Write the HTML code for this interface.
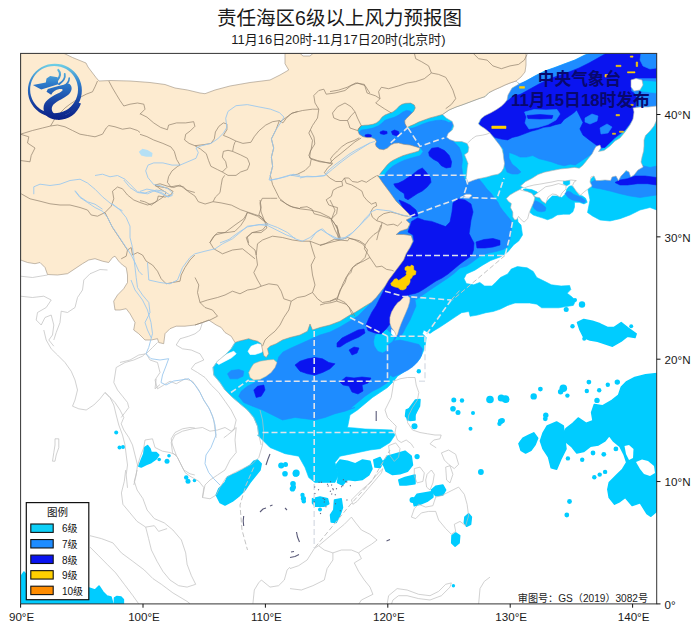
<!DOCTYPE html>
<html lang="zh"><head><meta charset="utf-8"><title>责任海区6级以上风力预报图</title>
<style>
html,body{margin:0;padding:0;background:#fff;}
body{width:700px;height:631px;position:relative;overflow:hidden;font-family:"Liberation Sans",sans-serif;}
.xl{position:absolute;top:610.2px;width:60px;text-align:center;font-size:11.6px;line-height:14px;color:#1a1a1a;white-space:nowrap}
.h{position:absolute;color:transparent;white-space:nowrap;overflow:hidden;line-height:1.1;height:1.2em;pointer-events:none}
.yl{position:absolute;left:664.6px;font-size:11.6px;line-height:14px;color:#1a1a1a;white-space:nowrap}
</style></head><body>
<svg width="700" height="631" viewBox="0 0 700 631" style="position:absolute;left:0;top:0">
<defs><clipPath id="fr"><rect x="20.6" y="53.4" width="636.1" height="550.5"/></clipPath>
<linearGradient id="lg" x1="0" y1="0" x2="0" y2="1"><stop offset="0" stop-color="#5CC6E8"/><stop offset="0.45" stop-color="#2C73C8"/><stop offset="1" stop-color="#0B2A8E"/></linearGradient>
</defs>
<rect x="0" y="0" width="700" height="631" fill="#fff"/>
<g clip-path="url(#fr)">
<g stroke-linejoin="round">
<polygon points="590,53.4 656.7,53.4 656.7,107 640,115 625,140 600,160 570,175 530,185 521,188 515,200 518,222 521,225 522.5,235 518.7,241 513.8,244.7 507.7,252 500.4,256.9 490.7,260.5 482.2,265.4 474.9,270.2 466.4,273.9 464,278.7 466.4,283.6 473.7,284.8 479.8,282.4 484.6,286 491.9,286 495.6,282.4 500.4,277.5 507.7,273.9 511.3,269 517.4,266.6 527.1,267.8 533.2,271.4 536.8,277.5 544.1,281.1 551.4,284.8 561.1,286 569.6,285.5 570.8,289.6 567.2,293.3 572,296.9 575.7,300.6 573.3,305.4 566,306.6 558.7,307.8 549,307.8 541.7,307.8 536.8,304.2 529.6,303 522.3,303 515,303 507.7,305.4 500.4,309.1 493.1,311.5 485.9,312.7 477.4,315.1 470.1,316.3 468.9,311.5 461.6,312.7 454.3,317.6 447,322.4 439.7,327.3 433.6,330.9 430,333.4 423.7,330 422.5,333.7 426.2,337.5 425,347.5 420,358.7 412.5,366.2 405,371.2 397.5,376.2 393.7,381.2 387.5,387.5 380,392.5 372.5,397.5 365,403.7 357.5,410 350,415 347.5,427.5 355,428 365,429 380,429.5 392,430 395,435 390,442.5 380,448.7 370,450 352.5,453.7 340,456.2 335,462.5 338.7,475 335,482.5 315,482.5 308.7,477.5 305,467.5 298.7,456.2 285,453.7 270,447.5 257.5,435 258.7,435 257.5,426.2 253.7,417.5 247.5,410 240,403.7 231.2,396.2 225,390 220,382.5 213.7,375 213,367.5 217.5,361.2 225,355 231.2,348.7 235,342.5 300,320 380,270 400,200 370,170 350,130 400,100 450,105 519,83 517.5,86 526,81 535,76 545,71 555,67.5 565,63.7 575,60 585,55" fill="#00CCFF" stroke="#00CCFF" stroke-width="0.6" />
<polygon points="248,351.2 251.2,346.2 257.5,343.8 263.8,345 265,348.8 261.2,352.5 255,354.5 250,354.5" fill="#FFFFFF" stroke="#FFFFFF" stroke-width="0.6" />
<polygon points="216.2,362.5 221.2,357.5 227.5,353.8 233.8,351.2 236.2,353.8 231.2,358 225,361.2 218.8,364.5" fill="#FFFFFF" stroke="#FFFFFF" stroke-width="0.6" />
<polygon points="530.1,208.6 531.7,203.9 534.1,200.7 533.3,197.5 530.1,194.4 526.9,192 523,189.6 525.4,188.8 531.7,189.6 537.2,192 539.6,196 542.8,199.9 546,202.3 549.1,199.1 552.3,196 557.1,196 561.8,197.5 565.8,193.6 566.6,189.6 568.9,186.5 571.3,185.7 574.5,188 576.1,191.2 579.2,195.2 582.4,196 585.6,198.3 587.2,202.3 584,203.9 579.2,202.3 574.5,202.3 574.5,207.1 572.9,211.8 569.7,214.2 563.4,214.2 557.1,215 552.3,218.1 547.5,219.7 542.8,218.1 538,216.6 533.3,215 530.1,212.6" fill="#00CCFF" stroke="#00CCFF" stroke-width="0.6" />
<polygon points="563.4,179.3 566.6,178.5 569.7,180.1 569.7,184.1 566.6,185.7 563.4,184.1" fill="#00CCFF" stroke="#00CCFF" stroke-width="0.6" />
<polygon points="587.5,212.5 590,200 588,190 590,180 600,170 630,150 645,125 650,118 656.7,118 656.7,210 650,207.5 640,210 630,215 620,218.7 610,221 600,220 592.5,216" fill="#00CCFF" stroke="#00CCFF" stroke-width="0.6" />
<polygon points="358.6,132.4 361.4,130.1 367.1,129.3 372.9,128.1 378.6,125.7 382.1,122.9 385,120.3 389.3,118.7 394.3,117.3 398.6,115.1 402.9,112 406.4,110.4 410,111 412.3,112.9 410.7,115.7 407.1,118.6 405,121.4 407,125.7 408,128.5 412.9,128 417.1,126.5 422.9,124 428.6,122 435.7,120.5 441.4,120 445.7,121 448.6,122.5 453.8,122.2 451.4,127.7 449,134.1 451.4,139.6 455.4,143.6 459.3,147.5 461.7,153.9 462.5,160.2 461.7,166.6 462.5,172.9 464.1,177.7 466.5,182.4 468,181 478.5,177 478.5,178.6 482.8,183.5 487.1,189.3 491.4,193.5 494.2,197.8 497.8,202.1 499.9,206.4 502.8,210.6 506.4,214.9 509.9,219.2 512.1,222.1 511,232 509.9,239.2 508.4,246 503.1,249.5 496.2,251.5 489.2,253 482.2,255 477,258.5 471.8,262.5 466.5,266 460,268 454,273.5 448,278 442,282 436,286 430,290 425,293.5 420,297 416,299.5 411,298 415,300 416,306 413,313 410,320 406,327 403,333 400,337 397,336 394,341 400,340 407,341.5 413,343 419,344.5 422.5,349 421.5,355.5 417.5,362 413,366.5 408,370 400,374 393,377 390,375 387.5,382.5 380,387.5 372.5,391.2 365,396.2 357.5,402.5 350,408.7 355,407.5 345,411.2 335,413.7 325,417.5 315,420 305,418.7 295,417.5 282.5,420 272.5,415 262.5,410 252.5,406.2 243.7,402.5 238.7,396.2 241.2,391.2 247.5,386.2 257.5,381.2 265,377.5 277.5,361.2 278.7,357 283,352 290,348.5 300,344 310,339.5 320,335 330,332 340,327 350,321 358,316 365,309 372,302 378,294 383,288 387,282 391,276 393.5,273 385,270 380,220 370,170 350,140" fill="#1E8CFF" stroke="#1E8CFF" stroke-width="0.6" />
<polygon points="420,148.1 418.9,151 414.3,152.4 408.6,153.9 402.9,155.7 397.9,157.9 392.9,160.4 390.4,162.1 387.4,164.7 384.3,168.6 381.4,172.1 379.3,175 378.5,177 381.5,176.5 384,175 386.5,171.5 389.5,168.3 392.5,165.7 395,164.2 399.5,161.7 404.5,159.6 410,157.8 415.5,156.3 420,155 422.5,151.5" fill="#00CCFF" stroke="#00CCFF" stroke-width="0.6" />
<polygon points="375,336.2 380,331.2 387.5,330 390,336.2 387.5,343.8 385,351.2 378.8,350 375,343.8" fill="#00CCFF" stroke="#00CCFF" stroke-width="0.6" />
<polygon points="519,84 526,81 535,76 545,71 555,67.5 565,63.7 575,60 585,55 590,53.4 656.7,53.4 656.7,107 640,115 620,135 600,150 597.1,149.3 594,152.4 589.3,155.6 584.6,158.7 579.9,161.9 575.1,165 570.4,164.2 564.1,165.8 557.9,164.2 551.6,161.9 545.3,160.3 539,158.7 532.7,155.6 526.4,157.1 520.1,157.1 515.4,154.8 509.1,152.4 509,158 512,164 517,168 521,172 518,174 512,174 507,172 504.5,165 503.5,158 503.6,149.3 495,140 485,125 495,105 510,90" fill="#1E8CFF" stroke="#1E8CFF" stroke-width="0.6" />
<polygon points="479,124 482,118 485,115.5 490,111 500,106 508.7,100 512,97 521,94 530,89 539,84 549,79 559,75.5 569,72 579,68 589,63 598,58 606,53.4 656.7,53.4 656.7,78 637,78 631,80 631,91 634,93 638,100 637.5,103.7 635,112.5 632.5,120 625,130 615,137.5 605,147.5 600.3,147.7 595.6,144.6 589.3,139.9 583,135.1 579.9,128.9 583,122.6 579.9,116.3 576.7,110 573.6,113.1 568.9,116.3 564.1,119.4 561,123.4 554.7,124.9 550,126.5 543.7,127.3 537.4,129.6 531.1,131.2 524.9,133.6 518.6,135.9 512.3,137.5 507.6,139.9 501.3,139.1 495,137.5 490,133" fill="#0A14F0" stroke="#0A14F0" stroke-width="0.6" />
<polygon points="641,53.4 656.7,53.4 656.7,68 650,69 643,66 640,60" fill="#1E8CFF" stroke="#1E8CFF" stroke-width="0.6" />
<polygon points="640,92 656.7,92 656.7,107 636,108 637,100" fill="#1E8CFF" stroke="#1E8CFF" stroke-width="0.6" />
<polygon points="637,83 645,81 656.7,82 656.7,93 648,92 640,91" fill="#00CCFF" stroke="#00CCFF" stroke-width="0.6" />
<polygon points="375.7,336.6 379.6,333.4 386,331 390.7,332.6 394.7,336.6 392.3,341.3 387.5,344.5 386.8,349.2 382.8,352.4 378,350.8 374.9,346.1 374.1,341.3" fill="#00CCFF" stroke="#00CCFF" stroke-width="0.6" />
<polygon points="391.5,329.5 394.5,331.5 396.5,336 394,336.5 391.5,333.5" fill="#FFFFFF" stroke="#FFFFFF" stroke-width="0.6" />
<polygon points="428.6,152.2 431.8,148.2 438.1,147.4 444.5,150.6 449.2,155.4 451.6,161.7 450.8,167.2 446.1,168 441.3,165.7 438.1,161.7 433.4,159.3 429.4,156.1" fill="#0A14F0" stroke="#0A14F0" stroke-width="0.6" />
<polygon points="422.3,168 425.5,171.2 430.2,177.5 431,182.3 427.1,187.1 422.3,191 417.5,193.4 412.8,196.6 408,199.7 404.9,198.1 404.1,193.4 400.1,191 395.4,187.1 393.8,183.9 398.5,183.1 403.3,180.7 408,177.5 412.8,174.4 417.5,170.4" fill="#0A14F0" stroke="#0A14F0" stroke-width="0.6" />
<polygon points="399,200 404,202 410,205 416,210 418,216 412,217 408,213 403,208" fill="#0A14F0" stroke="#0A14F0" stroke-width="0.6" />
<polygon points="411.6,221.4 417.7,217.9 424.7,220.5 431.6,221.4 438.6,224 445.6,226.6 450,222 452,212 453,203 458,199 465,200 471,204 473,212 471,220 470,227.5 469.1,233.6 471.7,238.8 474,243 473.5,250 471.7,255.4 468.3,258 464,261 460,264 454,269 448,274 442,278 436,281 430,285 424,289 419,292 415,293.5 410,294.5 407,296 400,301 394,308 391,316 390,324 386,329 381,334 375,333 368,330.5 366,325 369,318 372,312 376,306 379,300 383,292 386,285 388,279 392,274 396,270 400,265 404,259 407,253 411,247 414,241 413,235 408,232" fill="#0A14F0" stroke="#0A14F0" stroke-width="0.6" />
<polygon points="295,365 300,361.2 307.5,358.8 315,357.5 322.5,358.8 328.8,362.5 335,363.8 330,368.8 322.5,372.5 315,375 307.5,373.8 300,371.2" fill="#0A14F0" stroke="#0A14F0" stroke-width="0.6" />
<polygon points="253.8,390 257.5,386.2 263.8,385 265,390 261.2,396.2 256.2,397.5" fill="#0A14F0" stroke="#0A14F0" stroke-width="0.6" />
<polygon points="227.5,373.8 231.2,370.5 238.8,369.5 243.8,371.2 243,376.2 237.5,378.8 230,378.8" fill="#1E8CFF" stroke="#1E8CFF" stroke-width="0.6" />
<polygon points="405,267.5 407.5,266 410,266.8 411.5,265 413.5,266 413.8,270 416,271.2 415.5,274.5 412.8,275.5 411.5,278.2 410,279 410,282 408.5,285 406.5,286 406,288.5 403,290 400,289.5 398,287.5 395,287 391.5,285.5 390.8,283.5 393,281.2 394.5,279 397,278.8 398.5,280.5 401,279 403,277.5 405,276.5 406.5,274.5 406,273 407,271 405,270" fill="#FFD000" stroke="#FFD000" stroke-width="0.6" />
<polygon points="491.8,126.1 506,126.1 506,128.5 491.8,128.5" fill="#FFD000" stroke="#FFD000" stroke-width="0.6" />
<polygon points="591,182.5 595,180 602.5,181 610,178.7 615,175 625,172.5 631,170 640,165 650,167.5 656.7,166 656.7,195 650,196 640,197.5 630,196 620,193.7 610,191 600,188.7 592.5,187.5" fill="#1E8CFF" stroke="#1E8CFF" stroke-width="0.6" />
<polygon points="615,182.5 620,180 627.5,178.7 635,176 645,176 656.7,177.5 656.7,185 647.5,183.7 637.5,183.7 627.5,185 620,185" fill="#0A14F0" stroke="#0A14F0" stroke-width="0.6" />
<polygon points="533.3,202.3 535.7,200.7 538.8,202.3 542.8,204.7 546,207.8 545.2,211 541.2,211.8 537.2,211 534.1,208.6 532.5,205.5" fill="#1E8CFF" stroke="#1E8CFF" stroke-width="0.6" />
<polygon points="565,193.6 567.4,191.2 570.5,192 573.7,194.4 577.7,196 581.6,197.5 585.6,200.7 584,203.1 580,201.5 576.1,200.7 572.1,199.9 568.1,197.5" fill="#1E8CFF" stroke="#1E8CFF" stroke-width="0.6" />
<polygon points="605,74.5 608,74.5 608,77 605,77" fill="#FFD000" stroke="#FFD000" stroke-width="0.6" />
<polygon points="616,65.3 621,65.3 621,66.6 616,66.6" fill="#FFD000" stroke="#FFD000" stroke-width="0.6" />
<polygon points="627.5,71.8 635,71.8 635,72.9 627.5,72.9" fill="#FFD000" stroke="#FFD000" stroke-width="0.6" />
<polygon points="636.2,62 637.6,62 637.6,66.5 636.2,66.5" fill="#FFD000" stroke="#FFD000" stroke-width="0.6" />
<polygon points="630.3,56 633,56 633,57.2 630.3,57.2" fill="#FFD000" stroke="#FFD000" stroke-width="0.6" />
<polygon points="630.8,104.4 633.2,104.4 633.2,105.4 630.8,105.4" fill="#FFD000" stroke="#FFD000" stroke-width="0.6" />
<polygon points="616,114.6 619.5,114.6 619.5,115.8 616,115.8" fill="#FFD000" stroke="#FFD000" stroke-width="0.6" />
<polygon points="612.5,133.2 615.5,133.2 615.5,134.3 612.5,134.3" fill="#FFD000" stroke="#FFD000" stroke-width="0.6" />
<polygon points="619.5,131.2 623.5,131.2 623.5,132.3 619.5,132.3" fill="#FFD000" stroke="#FFD000" stroke-width="0.6" />
<polygon points="519.5,86.6 524.5,86.6 524.5,88.2 519.5,88.2" fill="#FFD000" stroke="#FFD000" stroke-width="0.6" />
<polygon points="365,135 368,134.2 371.4,135 371,137 367.5,137.3 365.2,136.5" fill="#0A14F0" stroke="#0A14F0" stroke-width="0.6" />
<polygon points="380,132 383,130.7 387,131.5 387.1,133.6 384,134.4 380.5,133.8" fill="#0A14F0" stroke="#0A14F0" stroke-width="0.6" />
<polygon points="391.4,131.5 394.5,130 398.5,131.5 399.3,134.5 396,135.8 392.5,134.5" fill="#0A14F0" stroke="#0A14F0" stroke-width="0.6" />
<polygon points="476,242 484,239.5 493,238.5 500,240.5 500,245 493,247 485,248 477,248" fill="#0A14F0" stroke="#0A14F0" stroke-width="0.6" />
<polygon points="337,343 342,338 350,334 358,330 364,329 365,333 359,337 352,340 346,343 340,347 337,347" fill="#0A14F0" stroke="#0A14F0" stroke-width="0.6" />
<polygon points="349,350 354,347 359,348 357,353 352,355" fill="#0A14F0" stroke="#0A14F0" stroke-width="0.6" />
<polygon points="340,382 346,377 354,378 362,377 371,378 368,383 362,385 363,391 358,394 352,392 349,386 343,385" fill="#0A14F0" stroke="#0A14F0" stroke-width="0.6" />
<polygon points="524.5,112 534,109.5 546,110 557,109.5 560,114 556,120 548,124.5 538,127.5 529,129 525,123 526.5,117" fill="#1E8CFF" stroke="#1E8CFF" stroke-width="0.6" />
<polygon points="527,115.5 540,114.5 553,115.5 552,118.5 540,119 528,118.5" fill="#0A14F0" stroke="#0A14F0" stroke-width="0.6" />
<polygon points="585,118 592,114 598,116 597,121 590,124 585,122" fill="#1E8CFF" stroke="#1E8CFF" stroke-width="0.6" />
<polygon points="600,128 607,124 612,127 608,133 601,134" fill="#1E8CFF" stroke="#1E8CFF" stroke-width="0.6" />
<polygon points="657.1,373.5 645.6,374.8 634.8,377.5 626.7,381.6 621.3,387 618.6,395 611.9,400.4 602.4,405.8 594.3,404.5 591.6,412.6 593,420.6 586.3,423.3 578.2,418 572.8,423.3 566,428.7 563.3,434.1 564.7,440.9 571.4,446.3 576.8,453 583.6,451.6 590.3,446.3 598.4,444.9 605.1,440.9 609.2,435.5 613.2,440.9 619.9,446.3 624,454.3 626.7,462.4 622.6,469.2 615.9,475.9 609.2,482.6 607.8,489.4 609.2,497.5 614.6,504.2 619.9,501.5 625.3,497.5 632.1,505.6 640.2,502.9 646.9,513.6 650.9,516.3 657.1,510.9" fill="#00CCFF" stroke="#00CCFF" stroke-width="1.5" />
<polygon points="543.1,432.8 547.2,426 556.6,422 563.3,426 564.7,438.2 566,448.9 560.6,459.7 556.6,469.2 551.2,467.8 548.5,457 543.1,448.9 540.4,440.9" fill="#00CCFF" stroke="#00CCFF" stroke-width="1.5" />
<polygon points="518.9,443.6 522.9,438.2 528.3,435.5 533.7,432.8 537.7,438.2 535,444.9 531,450.3 525.6,453 521,450.3" fill="#00CCFF" stroke="#00CCFF" stroke-width="1.5" />
<polygon points="577.5,322.5 583.8,319.5 592.5,321.2 600,323.8 607.5,327.5 613.8,327.5 621.2,322.5 627.5,327.5 636.2,333.8 635,337.5 627.5,336.2 621.2,341.2 612.5,346.2 605,343.8 597.5,341.2 590,340 583.8,337.5 580,330" fill="#00CCFF" stroke="#00CCFF" stroke-width="1.5" />
<polygon points="312.5,498.8 320,497 327.5,498.8 328.8,503.8 323.8,506.2 315,506.2 312.5,503" fill="#00CCFF" stroke="#00CCFF" stroke-width="1.5" />
<polygon points="334.5,500 341.2,498.8 342.5,507.5 340,515 336.2,522.5 331.2,522 330.5,515 333.8,510" fill="#00CCFF" stroke="#00CCFF" stroke-width="1.5" />
<polygon points="340,460 347.5,461.2 355,463.8 362.5,460 370,461.2 372,468.8 368.8,475 362.5,479.5 355,480.5 347.5,479.5 342.5,485 337.5,482.5 338.8,475 336.2,465" fill="#00CCFF" stroke="#00CCFF" stroke-width="1.5" />
<polygon points="373.8,460 380,457.5 383,462.5 380,467.5 375,467" fill="#00CCFF" stroke="#00CCFF" stroke-width="1.5" />
<polygon points="382.5,462.5 387.5,456.2 396.2,453.8 405,451.2 411.2,456.2 412.5,465 407.5,471.2 400,473.8 392.5,474.5 386.2,471.2" fill="#00CCFF" stroke="#00CCFF" stroke-width="1.5" />
<polygon points="398.8,480 405,477.5 415,475 415,483.8 406.2,485 400,485" fill="#00CCFF" stroke="#00CCFF" stroke-width="1.5" />
<polygon points="406.2,410 412.5,407.5 415,408.8 415,420 410,420.5 405.5,416.2" fill="#00CCFF" stroke="#00CCFF" stroke-width="1.5" />
<polygon points="415.5,400 420,399.5 419.5,406.2 416.2,412.5 412.5,418.8 407.5,420 406.2,413.8 410,407.5" fill="#00CCFF" stroke="#00CCFF" stroke-width="1.5" />
<polygon points="138.8,466.2 141.2,460 143.8,453.8 144.5,447.5 147.5,445.5 150,448.8 151.2,452.5 156.2,452.5 158.8,455 156.2,458.8 151.2,462.5 146.2,464.5 141.2,467" fill="#00CCFF" stroke="#00CCFF" stroke-width="1.5" />
<polygon points="216.2,495 218.8,488.8 225,482.5 227.5,477 235,473.8 242.5,470 250,465.5 253.8,461.2 257.5,460 261.2,463.8 260,470 255,476.2 250,482.5 245,490 238.8,496.2 232.5,501.2 225,505 220,502.5" fill="#00CCFF" stroke="#00CCFF" stroke-width="1.5" />
<polygon points="20.6,577 24,572 30,580 60,585 89,588 95,590 99,586 103,592 107,596 111,597 113,603.9 20.6,603.9" fill="#00CCFF" stroke="#00CCFF" stroke-width="1.5" />
<polygon points="412.9,500 417.1,494.3 424.3,492.9 432.9,491.4 432.9,497.1 427.1,501.4 420,504.3 414.3,505.7" fill="#00CCFF" stroke="#00CCFF" stroke-width="1.5" />
<polygon points="431.4,490 435.7,486.3 442.9,485.1 445.7,490 442.9,494.9 435.7,495.7" fill="#00CCFF" stroke="#00CCFF" stroke-width="1.5" />
<polygon points="464.9,517.1 468.6,513.7 471.4,517.1 470.6,524.3 466.6,526.3 464.3,522.9" fill="#00CCFF" stroke="#00CCFF" stroke-width="1.5" />
<polygon points="452,535.7 455.7,532.9 459.7,535.7 459.1,542.9 455.1,546.3 451.7,542.9" fill="#00CCFF" stroke="#00CCFF" stroke-width="1.5" />
<polygon points="114.3,603.9 114.5,598 117,596.4 121,597 123.4,599.5 123.4,603.9" fill="#00CCFF" stroke="#00CCFF" stroke-width="1.5" />
<polygon points="636,462 642,459.5 648,461 654,466 655,473 650,476 644,474 640,469" fill="#fff" stroke="none" stroke-width="0" />
<polygon points="624.5,446 629,445 633.5,449 633,458 629,460 626,454" fill="#fff" stroke="none" stroke-width="0" />
<circle cx="505.4" cy="399.1" r="3.8" fill="#00CCFF"/>
<circle cx="502.2" cy="420.6" r="2.7" fill="#00CCFF"/>
<circle cx="533.7" cy="396.4" r="3.2" fill="#00CCFF"/>
<circle cx="540.4" cy="389.1" r="2.4" fill="#00CCFF"/>
<circle cx="563.3" cy="388.3" r="3.8" fill="#00CCFF"/>
<circle cx="560.6" cy="391.8" r="2.7" fill="#00CCFF"/>
<circle cx="567.4" cy="395.6" r="2.2" fill="#00CCFF"/>
<circle cx="588.9" cy="382.1" r="2.4" fill="#00CCFF"/>
<circle cx="586.8" cy="391" r="2.2" fill="#00CCFF"/>
<circle cx="599.2" cy="390.2" r="2.2" fill="#00CCFF"/>
<circle cx="607.8" cy="384.8" r="2.2" fill="#00CCFF"/>
<circle cx="617.3" cy="382.1" r="2.7" fill="#00CCFF"/>
<circle cx="545.8" cy="415.3" r="2.7" fill="#00CCFF"/>
<circle cx="545.3" cy="418.8" r="2.4" fill="#00CCFF"/>
<circle cx="597" cy="400.4" r="2.7" fill="#00CCFF"/>
<circle cx="567.9" cy="458.4" r="2.2" fill="#00CCFF"/>
<circle cx="582.2" cy="459.7" r="2.2" fill="#00CCFF"/>
<circle cx="593" cy="453" r="2.4" fill="#00CCFF"/>
<circle cx="603.8" cy="454.3" r="2.4" fill="#00CCFF"/>
<circle cx="615.9" cy="448.9" r="2.4" fill="#00CCFF"/>
<circle cx="594.3" cy="477.3" r="2.2" fill="#00CCFF"/>
<circle cx="599.7" cy="474.6" r="2.2" fill="#00CCFF"/>
<circle cx="605.1" cy="471.9" r="2.2" fill="#00CCFF"/>
<circle cx="569.5" cy="501.5" r="2.4" fill="#00CCFF"/>
<circle cx="566.8" cy="515" r="2.4" fill="#00CCFF"/>
<circle cx="572.5" cy="326.2" r="2.2" fill="#00CCFF"/>
<circle cx="584.2" cy="338.8" r="2" fill="#00CCFF"/>
<circle cx="631.2" cy="326.2" r="2" fill="#00CCFF"/>
<circle cx="566.2" cy="309.5" r="2.5" fill="#00CCFF"/>
<circle cx="575" cy="300" r="2" fill="#00CCFF"/>
<circle cx="582" cy="304.5" r="3.2" fill="#00CCFF"/>
<circle cx="281.2" cy="465.5" r="3" fill="#00CCFF"/>
<circle cx="285.5" cy="464.5" r="2.5" fill="#00CCFF"/>
<circle cx="285" cy="473.8" r="2.8" fill="#00CCFF"/>
<circle cx="296.2" cy="473" r="3.5" fill="#00CCFF"/>
<circle cx="293" cy="483.8" r="2.8" fill="#00CCFF"/>
<circle cx="292.5" cy="488.8" r="2.8" fill="#00CCFF"/>
<circle cx="302.5" cy="495" r="2.2" fill="#00CCFF"/>
<circle cx="303.8" cy="501.2" r="2.2" fill="#00CCFF"/>
<circle cx="320" cy="509.5" r="2" fill="#00CCFF"/>
<circle cx="412.5" cy="500" r="3" fill="#00CCFF"/>
<circle cx="418.8" cy="371.2" r="2.2" fill="#00CCFF"/>
<circle cx="414.5" cy="426.2" r="3" fill="#00CCFF"/>
<circle cx="453.8" cy="400" r="2.5" fill="#00CCFF"/>
<circle cx="462" cy="400.5" r="2.2" fill="#00CCFF"/>
<circle cx="453" cy="408.8" r="2.8" fill="#00CCFF"/>
<circle cx="458" cy="412.5" r="2.5" fill="#00CCFF"/>
<circle cx="473" cy="413" r="2" fill="#00CCFF"/>
<circle cx="470.5" cy="428.8" r="2" fill="#00CCFF"/>
<circle cx="490" cy="399.5" r="3.8" fill="#00CCFF"/>
<circle cx="501.2" cy="398" r="3.5" fill="#00CCFF"/>
<circle cx="506.2" cy="399.5" r="3.2" fill="#00CCFF"/>
<circle cx="500.8" cy="421.2" r="2.8" fill="#00CCFF"/>
<circle cx="499.5" cy="423.8" r="2.2" fill="#00CCFF"/>
<circle cx="522.5" cy="443" r="3" fill="#00CCFF"/>
<circle cx="116.2" cy="432.5" r="2" fill="#00CCFF"/>
<circle cx="119.5" cy="447.5" r="2" fill="#00CCFF"/>
<circle cx="123" cy="447" r="2" fill="#00CCFF"/>
<circle cx="159.2" cy="459.5" r="1.8" fill="#00CCFF"/>
<circle cx="167" cy="461.2" r="2.5" fill="#00CCFF"/>
<circle cx="169" cy="455.8" r="1.8" fill="#00CCFF"/>
<circle cx="186.2" cy="477.5" r="2.2" fill="#00CCFF"/>
<circle cx="188" cy="481.2" r="2.5" fill="#00CCFF"/>
<circle cx="194.5" cy="480.5" r="1.8" fill="#00CCFF"/>
<circle cx="480.9" cy="472" r="2.9" fill="#00CCFF"/>
<circle cx="453.4" cy="585.7" r="1.7" fill="#00CCFF"/>
<circle cx="295.7" cy="473.7" r="3.1" fill="#00CCFF"/>
<circle cx="293.4" cy="487.1" r="2.6" fill="#00CCFF"/>
<circle cx="303.4" cy="498.6" r="2.6" fill="#00CCFF"/>
<circle cx="417.1" cy="456.6" r="2.6" fill="#00CCFF"/>
</g>
<polygon points="442.5,114.5 449,110 456,107 463,104.6 471,101.6 479,98.6 485,96.6 489,92.6 494,90 500,87.4 505,85 510,83 516,81 519,84 512,88 508,95 507,100 504.5,103.2 501.3,106.3 496.6,109.5 491,112.7 484.7,115.8 480.7,119 478.3,123.8 480.7,126.1 484.7,128.5 487.8,130.9 490.2,133.3 493.4,137.2 496.6,141.2 499.7,145.2 502.1,149.1 503.2,153.9 503.7,158.6 504.5,163.4 503.7,168.1 501.3,172.1 498.1,174.2 492.6,175.3 487.1,176.9 482.3,178 477.5,178.9 472.8,180.5 468,182.4 466.1,177.7 466.8,172.9 467.2,168.1 468,163.4 466.1,158.6 464.5,154.7 468,152.3 468.8,147.5 467.2,143.6 461.7,141.5 455.4,141.5 449.8,139.6 446.6,137.2 448.2,133.3 452.2,130.1 453.8,126.1 452.2,121.4 446.6,118.2" fill="#fff" stroke="#b0b0b0" stroke-width="0.6" />
<polygon points="520.6,186 525.4,181.7 531.7,178.5 538,174.6 544.4,172.2 552.3,170.6 560.2,169 568.1,168.2 574.5,167.4 579.2,168.2 582.4,165.8 585.6,161.9 588.7,157.9 592,154 594,150 596,146.5 600,145 601,148 598.5,151.5 604,150.5 610,146 615,141 620,138 625,132 630,125 633,119 634,112 633,108 640,107 648,107 656.7,106 656.7,120 654,126 650,131 645.5,135.5 644,140 644,146 643.6,151 642,157 641,162 643.2,167 638,170 634,175 630.7,177 629,172 626,170.5 624,173 621,176 618.5,180.6 616,176 612,177 610.6,180.6 605,180 600,180.5 596,180.6 594,176 591,177 590,182 592,186 588,189 584,192 580.7,195 577,192 574,188 572.6,185.5 574,182 576.3,180.6 571,180 565,181 558,180.6 552,182 546,183 539.6,184.2 534,185 528,186.5 524,188" fill="#fff" stroke="#b0b0b0" stroke-width="0.6" />
<polygon points="533.5,196 540,191 545.7,186.7 552,185.5 558.5,183.6 565.9,185.5 566,189 562,193 560,197.1 556,194.5 552.4,194 548,197 545.7,203.6 542,201 539.6,197.7 536,197" fill="#fff" stroke="#b0b0b0" stroke-width="0.6" />
<polygon points="506.3,198.5 509.9,195 514.9,192.1 519.9,189.5 522.8,190.7 527,191.4 532,193.5 534.9,197.8 533.5,202.8 531.3,207.8 529.2,212.8 527.7,218.5 524.2,222.1 521.3,219.9 518.5,216.4 517,219.2 514.9,219.9 512.8,217.1 512.8,212.1 510.6,207.8 511.3,203.5 508.5,201.4" fill="#fff" stroke="#b0b0b0" stroke-width="0.6" />
<polygon points="463.5,195.5 466,194.2 470,194.2 472,195.5 470,197.3 466,197.5" fill="#fff" stroke="#b0b0b0" stroke-width="0.6" />
<polygon points="631,80 636,78.5 642,80 643,85 640,90 634,91 631,87" fill="#fff" stroke="#b0b0b0" stroke-width="0.6" />
<polyline points="43.8,330 46.2,340 51.2,348.8 57.5,355 65,362.5 71.2,371.2 75,380 77.5,390 75,400 72.5,406.2 78.8,408.8 86.2,410 93.8,405 100,398.8 105,392.5 110,397.5 113.8,405 116.2,415 118.8,425 122.5,435 125,445 126.2,455 127.5,465 126.2,475 127.5,487.8" fill="none" stroke="#bdbdbd" stroke-width="0.7" />
<polyline points="105,392.5 108.8,396.2 115,402.5 120,410 123.8,417.5 121.2,423.8 123.8,430 128.8,437.5 132.5,445 135,455 137.5,465 136.2,475 133.8,485" fill="none" stroke="#bdbdbd" stroke-width="0.7" />
<polyline points="116.2,367.5 115,375 113.8,382.5 117.5,390 122.5,396.2 127.5,402.5 128.8,407.5 125,412.5 121.2,417.5" fill="none" stroke="#bdbdbd" stroke-width="0.7" />
<polyline points="116.2,367.5 125,362.5 133.8,360 142.5,356.2 145,353.8" fill="none" stroke="#bdbdbd" stroke-width="0.7" />
<polyline points="156.2,378.8 155,388.8 160,384.5" fill="none" stroke="#bdbdbd" stroke-width="0.7" />
<polyline points="55,438.8 58.8,438.8 58.8,447.5 56.2,455 55,461.2 52.5,461.2 53.8,452.5 55,445 55,438.8" fill="none" stroke="#bdbdbd" stroke-width="0.7" />
<polyline points="137.5,466.2 140,457.5 143.8,447.5 145,440 152.5,438.8 155,447.5 162.5,451.2 170,452.5 176.2,455 180,462.5 183.8,470 190,473.8 194.8,475" fill="none" stroke="#bdbdbd" stroke-width="0.7" />
<polyline points="171.2,438.8 175,432.5 182.5,428.8 190,427.5 194.8,428" fill="none" stroke="#bdbdbd" stroke-width="0.7" />
<polyline points="171.2,438.8 172.5,445 176.2,455" fill="none" stroke="#bdbdbd" stroke-width="0.7" />
<polyline points="20.5,276.2 32.5,277.5 47.5,275" fill="none" stroke="#bdbdbd" stroke-width="0.7" />
<polyline points="20.5,296.2 32.5,297.5 43.8,296.2 51.2,300 46.2,307.5 37.5,312.5 36.2,320 41.2,325 45,317.5 51.2,315 53.8,325 52.5,335 48.8,340 53.8,346.2" fill="none" stroke="#bdbdbd" stroke-width="0.7" />
<polyline points="107.5,270 100,269.5 90,273.8 83.8,280 82.5,290 77.5,297.5 75,307.5 67.5,312.5 61.2,311.2 60,322.5 56.2,332.5 53.8,340" fill="none" stroke="#bdbdbd" stroke-width="0.7" />
<polyline points="157.5,342.5 152.5,347.5 146.2,353.8 150,360 157.5,362.5 160,372.5 155,380 157.5,388.8 163.8,385 170,381.2 176.2,383.8 185,378.8 192.5,381.2 198.8,390 203.8,400 210,410 213.8,420 215,430 216.2,437.8" fill="none" stroke="#bdbdbd" stroke-width="0.7" />
<polyline points="120,362.5 130,360 138.8,355 146.2,353.8" fill="none" stroke="#bdbdbd" stroke-width="0.7" />
<polyline points="202.5,322.5 200,330 195,333.8 188.8,336.2 180,338.8 176.2,345 182.5,348.8 191.2,350 200,353.8 203.8,360 195,363.8 191.2,368.8 197.5,372.5 205,377.5 211.2,385 218.8,392.5 225,401.2 231.2,410 236.2,420 233.8,430 227.5,435 223.8,437.8" fill="none" stroke="#bdbdbd" stroke-width="0.7" />
<polyline points="235,342.5 231.2,348.8 225,355 217.5,361.2 213,367.5 213.8,375 220,382.5 225,390 231.2,396.2 240,403.8 247.5,410 253.8,417.5 257.5,426.2 258.8,435 261.2,445" fill="none" stroke="#bdbdbd" stroke-width="0.7" />
<polyline points="260,410 262.5,420 263.8,432.5 262.5,445 258.8,457.5 252.5,463.8 242.5,468.8 232.5,473.8 226.2,477.5 220,487.5 216.2,495 210,498.8 202.5,497.5 203.8,487.5 198.8,481.2 190,476.2 185,472.5 181.2,465 177.5,457.5 172.5,452.5" fill="none" stroke="#bdbdbd" stroke-width="0.7" />
<polyline points="172.5,452.5 171.2,442.5 175,435 182.5,431.2 192.5,428.8 202.5,427.5 210,431.2 217.5,430 225,427.5 231.2,431.2 236.2,427.5" fill="none" stroke="#bdbdbd" stroke-width="0.7" />
<polyline points="202.5,497.5 205,485 210,480 217.5,475 225,470 230,460 236.2,452.5 235,440 236.2,427.5" fill="none" stroke="#bdbdbd" stroke-width="0.7" />
<polyline points="125.7,470 124.3,481.4 121.4,492.9 122.9,504.3 130,512.9 137.1,521.4 145.7,527.1 148.6,538.6 151.4,550 157.1,561.4 162.9,571.4 170,580 178.6,585.7 187.1,587.1 195.7,584.3 191.4,575.7 187.1,564.3 185.7,552.9 181.4,540 172.9,530 164.3,522.9 154.3,518.6 147.1,510 142.9,498.6 137.1,490 134.3,481.4 137.1,470" fill="none" stroke="#bdbdbd" stroke-width="0.7" />
<polyline points="145.7,527.1 154.3,525.7 158.6,531.4 167.1,528.6" fill="none" stroke="#bdbdbd" stroke-width="0.7" />
<polyline points="90,535.7 101.4,538.6 112.9,542.9 121.4,552.9 132.9,561.4 144.3,570 152.9,578.6 161.4,584.3 172.9,592.9 187.1,601.4 190,603.7" fill="none" stroke="#bdbdbd" stroke-width="0.7" />
<polyline points="90,547.1 98.6,555.7 107.1,564.3 115.7,572.9 124.3,584.3 132.9,595.7 138.6,603.7" fill="none" stroke="#bdbdbd" stroke-width="0.7" />
<polyline points="252.9,603.7 254.3,590 258.6,582.9 261.4,580 270,587.1 278.6,585.7 284.3,580 287.1,570 290,567.1" fill="none" stroke="#bdbdbd" stroke-width="0.7" />
<polyline points="290,568.6 298.6,565.7 307.1,560 314.3,548.6 318.6,545.7 327.1,538.6 335.7,531.4 344.3,524.3 351.4,517.1 355.7,522.9 361.4,530 370,534.3 377.1,540 371.4,544.3 364.3,548.6 358.6,552.9 361.4,558.6 354.3,562.9 358.6,571.4 364.3,580 370,587.1 372.9,594.3 361.4,600 358.6,604.3" fill="none" stroke="#bdbdbd" stroke-width="0.7" />
<polyline points="318.6,545.7 324.3,550 332.9,552.9 341.4,550 351.4,550 358.6,552.9" fill="none" stroke="#bdbdbd" stroke-width="0.7" />
<polyline points="290,588.6 301.4,590 312.9,585.7 324.3,580 327.1,568.6 332.9,560 332.9,552.9" fill="none" stroke="#bdbdbd" stroke-width="0.7" />
<polyline points="351.4,500 361.4,490 370,482.9 377.1,474.3 382.9,468.6 381.4,472.9 374.3,481.4 365.7,491.4 357.1,501.4 352.9,504.3 351.4,500" fill="none" stroke="#bdbdbd" stroke-width="0.7" />
<polyline points="387.1,604.3 388.6,595.7 397.1,588.6 407.1,590 418.6,594.3 430,595.7 438.6,591.4 445.7,584.3 451.4,582.9 450,587.1 441.4,595.7 430,600 418.6,598.6 407.1,595.7 398.6,595.7 392.9,600 391.4,604.3" fill="none" stroke="#bdbdbd" stroke-width="0.7" />
<polyline points="411.4,517.1 414.3,508.6 418.6,504.3 425.7,507.1 432.9,505.7 435.7,497.1 441.4,495.7 450,491.4 458.6,487.1 464.3,494.3 467.1,504.3 468.6,515.7 465.7,525.7 460,521.4 454.3,524.3 455.7,531.4 451.4,534.3 445.7,528.6 438.6,520 435.7,511.4 428.6,511.4 421.4,512.9 415.7,518.6 411.4,517.1" fill="none" stroke="#bdbdbd" stroke-width="0.7" />
<polyline points="441.4,452.9 448.6,450 455.7,454.3 458.6,464.3 454.3,468.6 448.6,464.3 444.3,460 441.4,452.9" fill="none" stroke="#bdbdbd" stroke-width="0.7" />
<polyline points="445.7,467.1 450,465.7 452.9,474.3 450,482.9 446.6,480 445.7,467.1" fill="none" stroke="#bdbdbd" stroke-width="0.7" />
<polyline points="427.1,474.3 431.4,470 434.3,474.3 432.9,482.9 430,490 426.6,487.1 425.7,480 427.1,474.3" fill="none" stroke="#bdbdbd" stroke-width="0.7" />
<polyline points="414.3,468.6 420,467.1 424.3,472.9 422.9,481.4 417.1,482.9 414.3,475.7 414.3,468.6" fill="none" stroke="#bdbdbd" stroke-width="0.7" />
<polyline points="388.6,445.7 395.7,442.9 400,448.6 398.6,457.1 394.3,461.4 390,455.7 388.6,445.7" fill="none" stroke="#bdbdbd" stroke-width="0.7" />
<polyline points="478.6,604.3 480,588.6 484.3,581.4 490,577.1" fill="none" stroke="#bdbdbd" stroke-width="0.7" />
<polyline points="393.8,381.2 400,378.8 407.5,377.5 415,377.5 416.2,385 418.8,392.5 417.5,400 412.5,407.5 408.8,415 407.5,422.5 412.5,430 420,432.5 427.5,433.8 435,435 441.2,435 440,438.8 433.8,440 430,443.8 436.2,447.8" fill="none" stroke="#bdbdbd" stroke-width="0.7" />
<polyline points="393.8,381.2 392.5,390 391.2,397.5 387.5,405 385,410 387.5,417.5 392.5,422.5 396.2,426.2 395,432.5 397.5,440 401.2,442.5 406.2,440 411.2,443.8 413.8,447.8" fill="none" stroke="#bdbdbd" stroke-width="0.7" />
<polyline points="468,142.8 472,138.8 476,136.1 482.3,135.2 487,134.1 490.2,132.5" fill="none" stroke="#bdbdbd" stroke-width="0.7" />
<polygon points="20.6,53.4 64,53.4 72.5,57.5 86,63 88,67 96,77.5 99,81 110,80.5 130,81 150,82.5 165,84.5 175,88 187.5,90 200,93 205,93.7 215,90 230,86 250,82.5 270,80 280,75 288.7,70 285,63.7 285,53.4 300,53.4 303,56 310,56 313,53.4 526,53.4 526,65 525,72 521,77 516,81 510,83 505,85 500,87.4 494,90 489,92.6 485,96.6 479,98.6 471,101.6 463,104.6 456,107 449,110 442.5,114.5 435.7,116.4 430,117.9 424.3,120 418.6,122.1 414.3,124.3 410,126.1 407.1,127.6 405,123.6 404.7,120.7 406.4,118.6 410,115 413.6,111.4 415.3,107.9 414.3,105 410.7,103.1 405.7,103.3 402.1,104.3 399.3,106.1 396.4,109.3 392.9,111.9 388.6,113.6 385,115 382.1,117.1 379.3,120.7 376.4,122.9 372.9,124.3 368.6,125 364.3,125.3 361.1,125.7 358.6,128.6 357.9,130.7 359.3,134.3 362.9,136.7 367.1,137.6 371.4,137.6 375,139 376.4,141.4 375.4,144.3 376.4,146.7 379.3,149 383.6,149.7 387.4,148.1 390.7,145 394.3,143.3 398.6,142.9 403.6,144.3 410,145 415.7,146.7 420,148.1 418.9,151 414.3,152.4 408.6,153.9 402.9,155.7 397.9,157.9 392.9,160.4 390.4,162.1 387.4,164.7 384.3,168.6 381.4,172.1 379.3,175 378.3,177.1 377.5,175 382.5,182.5 390,192.5 396.2,201.2 402.5,207.5 408.7,213.7 411.2,217.5 406.2,220 410,223.7 407.5,228.7 400,231.2 396.2,234.5 403.7,234.5 411.2,235.5 413,241.2 410,247.5 406.2,253.7 403.7,260 400,265 396.2,270 392.5,275 388.7,280 385,286.2 381.2,291.2 376.2,297.5 371.2,302.5 365,306.2 355,312.5 350,315 340,321.2 330,325 320,327.5 312.5,330 310,324 307.5,331.2 300,335 290,337.5 282.5,340 276.2,343.7 270,346.2 267.5,348.7 268.7,353.7 266.2,357.5 263.7,355.5 262.5,350 261.2,343.7 257.5,341.2 252.5,340 248.7,338.7 243.7,340 238.7,341.2 235,342.5 231.2,336.2 225,332.5 221.2,327.5 216.2,325 208.7,320 202.5,322.5 195,325 185,326.2 176.2,326.2 170,328.7 165,333.7 163.7,343.7 158.7,342.5 157.5,338.7 151.2,340 145,340 138.7,333.7 133.7,330 135,322.5 130,313.7 126.2,308.7 120,310 115,310 113.7,301.2 117.5,295 123.7,288.7 127.5,282.5 127.5,275 126.2,267.5 122.5,265 118.7,261.2 115,256.2 112.5,257.5 108.7,262.5 102.5,261.2 95,258.7 88.7,260 82.5,263.7 75,268.7 67.5,273.7 57.5,275 47.5,274.5 45,267.5 40,262.5 35,263.7 27.5,262.5 20.6,260" fill="#FDEBD0" stroke="#9b8f80" stroke-width="0.6" />
<polygon points="400.2,300.9 403.4,297.3 407.4,296.1 410,297.7 409.7,301.7 408.1,307.2 405.8,312.8 403.4,318.3 401,323.9 399,329.4 397.4,335 396.3,335.8 394.7,331.8 391.5,327.8 389.9,323.1 389.9,317.5 391.5,312 394.7,306.5 397.8,302.5" fill="#FDEBD0" stroke="#b8aa98" stroke-width="0.5" />
<polygon points="251.2,367.5 253.7,363.7 260,361.2 267.5,360 273.7,359.5 277,362.5 275,367.5 271.2,372.5 266.2,376.2 260,379.5 253.7,380 250,377.5 248.7,372.5" fill="#FDEBD0" stroke="#b8aa98" stroke-width="0.5" />
<polyline points="97.5,81 95,86.8 92.5,91.8 86.2,94.2 81.2,96.8 76.2,100 70,104.2 65,108 60,113 55,118.5 50.5,126" fill="none" stroke="#8f7f6c" stroke-width="0.7" />
<polyline points="20.5,134.2 32.5,130.5 42.5,128 50.5,126 57.5,125 65,126.8 72.5,130.5 80,134.2 87.5,135.5 95,136.8 102.5,134.2 106.2,128 108.8,125.5 115,126.8 122.5,129.2 130,128 137.5,130.5 140,132.5" fill="none" stroke="#8f7f6c" stroke-width="0.7" />
<polyline points="20.5,134.2 28.8,136.8 27.5,143 35,148 31.2,155.5 30,161.8 20.5,160.5" fill="none" stroke="#8f7f6c" stroke-width="0.7" />
<polyline points="108.8,81 112.5,88 116.2,94.2 120,100.5 123.8,106 130,104.2 137.5,103 143.8,104.2 145,109.2 140,114.2" fill="none" stroke="#8f7f6c" stroke-width="0.7" />
<polyline points="318.8,109.2 317.5,118 312.5,125.5 308.8,133 312.5,140.5 311.2,149.2 308.8,155.5 311.2,159.2 310,165.5 305,170.5 297.5,174.2 291.2,175.5" fill="none" stroke="#8f7f6c" stroke-width="0.7" />
<polyline points="311.2,159.2 320,161.8 330,163 335,158 340,154.2 347.5,148 355,141.8 361.2,138" fill="none" stroke="#8f7f6c" stroke-width="0.7" />
<polyline points="332.5,113 337.5,106.8 345,103 351.2,106.8 355,111.8 351.2,115.5 347.5,120.5 340,120.5 333.8,118 332.5,113" fill="none" stroke="#8f7f6c" stroke-width="0.7" />
<polyline points="347.5,120.5 350,128 357.5,130.5 361.2,125.5 357.5,118 355,111.8" fill="none" stroke="#8f7f6c" stroke-width="0.7" />
<polyline points="257.5,243.8 262.5,240 272.5,236.2 282.5,237.5 292.5,240 301.2,241.2 310,241.2 312.5,250 315,257.5 311.2,265 312.5,275 315,285 312.5,292.5 305,296.2 297.5,297.5 291.2,301.2 283.8,298.8 281.2,291.2 277.5,285 268.8,283.8 261.2,286.2 257.5,280 253.8,272.5 257.5,265 256.2,255 257.5,243.8" fill="none" stroke="#8f7f6c" stroke-width="0.7" />
<polyline points="310,241.2 320,245 330,242.5 340,240 347.5,237.5 355,240 362.5,243.8 367.5,250 365,257.5 360,262.5 352.5,267.5 347.5,275 345,282.5 340,290 337.5,297.5 330,301.2 322.5,302.5 317.5,298.8 312.5,292.5" fill="none" stroke="#8f7f6c" stroke-width="0.7" />
<polyline points="330,301.2 337.5,298.8 345,302.5 351.2,310 355,316.2" fill="none" stroke="#8f7f6c" stroke-width="0.7" />
<polyline points="291.2,301.2 288.8,310 283.8,317.5 280,325 275,331.2 268.8,336.2 265,340 262.5,346.2" fill="none" stroke="#8f7f6c" stroke-width="0.7" />
<polyline points="200,302.5 207.5,300 217.5,297.5 225,295 232.5,291.2 240,293.8 247.5,290 255,288.8 261.2,286.2" fill="none" stroke="#8f7f6c" stroke-width="0.7" />
<polyline points="195,277.5 198.8,285 197.5,292.5 200,302.5 205,307.5 212.5,310 217.5,316.2 210,320 202.5,322.5 195,325" fill="none" stroke="#8f7f6c" stroke-width="0.7" />
<polyline points="210,242.5 215,235 225,232.5 235,225 243.8,218.8 247.5,212.5 257.5,216.2 267.5,223.8 262.5,230 252.5,232.5 246.2,237.5 248.8,245 255,250 256.2,255" fill="none" stroke="#8f7f6c" stroke-width="0.7" />
<polyline points="210,242.5 213.8,248.8 222.5,253.8 232.5,250 242.5,248.8 248.8,253.8 255,258.8" fill="none" stroke="#8f7f6c" stroke-width="0.7" />
<polyline points="260,200 261.2,207.5 258.8,215 267.5,223.8" fill="none" stroke="#8f7f6c" stroke-width="0.7" />
<polyline points="280,200 290,206.2 300,208.8 310,210 320,212.5 330,217.5 337.5,227.5 340,240" fill="none" stroke="#8f7f6c" stroke-width="0.7" />
<polyline points="340,240 335,230 331.2,220 335,210 330,200" fill="none" stroke="#8f7f6c" stroke-width="0.7" />
<polyline points="21.2,193.8 30,198.8 40,201.2 50,203.8 60,205 70,205 80,207.5 87.5,210 91.2,215 97.5,216.2 105,212.5 111.2,206.2 113.8,198.8 112.5,191.2 117.5,187 122.5,188.8 127.5,195 133.8,200 140,202.5 147.5,205 155,202.5 162.5,197.5 166.2,192.5 160,188.8 155,185 160,183.8 167.5,186.2 173.8,187.5 180,185 186.2,190 194.8,192.5" fill="none" stroke="#8f7f6c" stroke-width="0.7" />
<polyline points="105,212.5 108.8,220 112.5,227.5 117.5,235 122.5,242.5 127.5,250 126.2,256.2 121.2,258.8" fill="none" stroke="#8f7f6c" stroke-width="0.7" />
<polyline points="127.5,250 131.2,247.5 132.5,255 137.5,252.5 142.5,255 146.2,261.2 152.5,265 157.5,271.2 161.2,278.8 166.2,283.8 172.5,282.5 180,281.2 181.2,275 185,267.5 190,260 194.8,255" fill="none" stroke="#8f7f6c" stroke-width="0.7" />
<polyline points="414.3,53 415.7,58.7 421.4,61.6 428.6,65.9 431.4,73 424.3,78.7 415.7,81.6 407.1,83 398.6,85.9 388.6,88.7 381.4,87.3 378.6,91.6 380,98.7 375.7,103 384.3,108.7 391.4,113" fill="none" stroke="#8f7f6c" stroke-width="0.7" />
<polyline points="431.4,73 438.6,74.4 445.7,77.3 450,84.4 452.9,90.1 455.7,98.7 451.4,104.4 445.7,108.7" fill="none" stroke="#8f7f6c" stroke-width="0.7" />
<polyline points="472.9,53 478.6,58.7 487.1,60.1 492.9,65.9 501.4,68.7 510,65.9 518.6,64.4 524.3,60.1 527.1,54.4" fill="none" stroke="#8f7f6c" stroke-width="0.7" />
<polyline points="330,91.6 338.6,90.1 347.1,87.3 355.7,83 364.3,84.4 367.1,93 375.7,95.9 380,98.7" fill="none" stroke="#8f7f6c" stroke-width="0.7" />
<polyline points="359.3,137.8 354.1,140.5 347.1,143.1 341.9,146.6 337.5,150.9 333.1,155.3 330.5,158.8 332.3,164" fill="none" stroke="#8f7f6c" stroke-width="0.7" />
<polyline points="332.3,164 327.9,167.5 324.4,172.7 329.7,178 335.8,181.5 341.9,181.5 344.5,178 348.8,178 352.3,181.5 357.6,182.3 361.9,180.6 366.3,182.3 371.5,178.8 376.7,175.7" fill="none" stroke="#8f7f6c" stroke-width="0.7" />
<polyline points="310.5,130 314,137 314.8,144 310.5,150.9 309.6,157.9 317.4,160.5 325.3,162.3 332.3,164" fill="none" stroke="#8f7f6c" stroke-width="0.7" />
<polyline points="341.9,181.5 342.7,185.8 337.5,187.6 333.1,190.2 331.4,196.3 326.2,199.8 328.8,205 334,206.7 337.5,207.6 336.6,213.7 331.4,219 334.9,224.2 337.5,229.4 338.4,240.1" fill="none" stroke="#8f7f6c" stroke-width="0.7" />
<polyline points="344.5,178 346.2,183.2 351.5,184.9 357.6,188.4 361.9,191.1 363.7,196.3 367.2,200.6 371.5,204.1 375.9,202.4 376.7,205.9 373.3,207.6 370.6,212 372.4,217.2 376.7,220.7 382,222.4 387.2,225.1 393.3,224.2 397.7,225.9 402,221.6" fill="none" stroke="#8f7f6c" stroke-width="0.7" />
<polyline points="300,207.6 307,206.7 312.2,209.4 314,213.7 320.9,215.5 326.2,217.2 331.4,219" fill="none" stroke="#8f7f6c" stroke-width="0.7" />
<polyline points="376.7,220.7 378.5,217.2 383.7,213.7 390.7,212 397.7,213.7 402.9,215.5 408.1,216.3" fill="none" stroke="#8f7f6c" stroke-width="0.7" />
<polyline points="382,222.4 381.1,227.7 378.5,232.9 376.7,240.1" fill="none" stroke="#8f7f6c" stroke-width="0.7" />
<polyline points="381,225 378.6,231.3 373.9,234.5 369.1,239.3 365.2,244.8 364.4,248.8 367.5,253.5 369.9,257.5" fill="none" stroke="#8f7f6c" stroke-width="0.7" />
<polyline points="369.9,257.5 373.1,262.2 376.3,267 381.8,266.2 386.6,269.4 391.3,270.2 393.7,271" fill="none" stroke="#8f7f6c" stroke-width="0.7" />
<polyline points="369.9,257.5 362.8,261.5 356.5,263.8 352.5,267.8 350.9,272.5 346.1,277.3 343,283.6 340.6,290 338.2,296.3 336.6,301.1" fill="none" stroke="#8f7f6c" stroke-width="0.7" />
<polyline points="336.6,301.1 341.4,302.7 346.1,304.2 349.3,307.4 350.9,312.2 352.5,315.3" fill="none" stroke="#8f7f6c" stroke-width="0.7" />
<polyline points="336.6,301.1 331.1,302.7 325.5,303.4 320,305" fill="none" stroke="#8f7f6c" stroke-width="0.7" />
<polyline points="320,245.6 324.8,244 329.5,241.6 334.3,239.3 340.6,240.1 347.7,240.8 349.3,238.5 354.1,239.3 359.6,240.8 365.2,244.8" fill="none" stroke="#8f7f6c" stroke-width="0.7" />
<polyline points="336.6,225 338.2,231.3 340.6,238.5" fill="none" stroke="#8f7f6c" stroke-width="0.7" />
<polyline points="280,121.8 283.8,119.2 292.5,113 302.5,110.5 312.5,109.2 318.8,109.2 315,103 313.8,95.5 318.8,90.5 323.8,89.2 326.2,94.2 335,93 345,90.5 351.2,85.5 357.5,83 365,85.5 369.8,93" fill="none" stroke="#8f7f6c" stroke-width="0.7" />
<polyline points="140,113.7 146.9,117.1 153.7,122.9 160.6,127.4 167.4,129.7 168.6,125.1 176.6,122.9 185.7,122.9 193.7,121.7 194.9,126.3 190.3,130.9 185.7,134.3 184.6,140 189.1,143.4 194.9,145.7 204,144.6 210.9,143.4 214.3,138.9 215.4,132 218.9,126.3 223.4,122.9 226.9,124 226.9,129.7 223.4,135.4 229.1,137.7 236,141.1 242.9,143.4 250.9,142.3 254.3,136.6 258.9,130.9 265.7,125.1 272.6,121.7 279.4,120.6 282.9,122.9 286.3,118.3 290.9,113.7 297.7,111.4" fill="none" stroke="#8f7f6c" stroke-width="0.7" />
<polyline points="140,134.3 146.9,136.6 153.7,140 162.9,143.4 170.9,146.9 174.3,151.4 176.6,159.4 180,165.1 177.7,166.3 172,170.9 168.6,176.6 167.4,182.3 170.9,186.9 176.6,185.7" fill="none" stroke="#8f7f6c" stroke-width="0.7" />
<polyline points="194.9,145.7 200.6,149.1 206.3,153.7 208.6,160.6 210.9,166.3 217.7,169.7 222.3,172 226.9,167.4 225.7,161.7 222.3,157.1 223.4,151.4 228,150.3 232.6,151.4 233.7,145.7 234.9,142.3 236,141.1" fill="none" stroke="#8f7f6c" stroke-width="0.7" />
<polyline points="222.3,172 228,175.4 236,175.4 240.6,172 247.4,169.7 249.7,164 247.4,158.3 240.6,154.9 232.6,151.4" fill="none" stroke="#8f7f6c" stroke-width="0.7" />
<polyline points="176.6,185.7 183.4,186.9 188,191.4 194.9,196 198.3,201.7 205.1,204 213.1,201.7 215.4,197.1 220,192.6 221.1,185.7 222.3,178.9 224.6,175.4" fill="none" stroke="#8f7f6c" stroke-width="0.7" />
<polyline points="213.1,201.7 221.1,202.9 231.4,205.1 240.6,209.7 247.4,212 254.3,214.3 261.1,216.6 264.6,221.1" fill="none" stroke="#8f7f6c" stroke-width="0.7" />
<polyline points="279.4,120.6 276,129.7 271.4,138.9 273.7,148 271.4,157.1 272.6,166.3 270.3,175.4 272.6,184.6 276,191.4 279.4,198.3 286.3,204 293.1,207.4 300,208.6" fill="none" stroke="#8f7f6c" stroke-width="0.7" />
<polyline points="264.6,221.1 261.1,212 260,202.9 262.3,198.3 270.3,198.3 277.1,198.3" fill="none" stroke="#8f7f6c" stroke-width="0.7" />
<polyline points="247.4,212 245.1,218.9 240.6,225.7 234.9,231.4 226.9,232.6 217.7,232.6 213.1,237.1 209.7,242.9" fill="none" stroke="#8f7f6c" stroke-width="0.7" />
<polyline points="264.6,221.1 266.9,228 261.1,232.6 252,232.6 247.4,237.1 248.6,242.9" fill="none" stroke="#8f7f6c" stroke-width="0.7" />
<polyline points="140,200.6 144.6,201.7 151.4,205.1 157.1,200.6 158.3,196 165.1,197.1 170.9,194.9 173.1,191.4 167.4,188 160.6,186.9 154.9,185.7" fill="none" stroke="#8f7f6c" stroke-width="0.7" />
<polyline points="33.8,194.2 33.8,186.8 40,184.2 50,185.5 60,184.2 70,180.5 80,179.2 87.5,183 95,189.2 102.5,196.8 110,203 117.5,208 122.5,210.8" fill="none" stroke="#9cc8ee" stroke-width="0.9" />
<polyline points="95,175.5 102.5,174.2 110,176.8 117.5,175.5 125,179.2 131.2,185.5 137.5,191.8 145,193 152.5,190.5 160,193 167.5,196.8 172.5,195.5" fill="none" stroke="#9cc8ee" stroke-width="0.9" />
<polyline points="75,190.5 80,196.8 87.5,201.8 95,204.2 102.5,209.2" fill="none" stroke="#9cc8ee" stroke-width="0.9" />
<polyline points="195,253.8 205,251.2 215,248.8 222.5,243.8 232.5,238.8 240,232.5 247.5,226.2 257.5,225 267.5,223.8 277.5,227.5 287.5,232.5 295,238.8 302.5,241.2 310,237.5 317.5,231.2 322.5,228.8 327.5,233.8 335,238.8 345,237.5 352.5,232.5 360,225 365,218.8 369.8,213.8" fill="none" stroke="#9cc8ee" stroke-width="0.9" />
<polyline points="75,191.2 80,197.5 87.5,202.5 95,207.5 102.5,211.2 107.5,217.5 111.2,225 116.2,232.5 121.2,240 126.2,247.5 131.2,255 135,262.5 138.8,271.2 142.5,275" fill="none" stroke="#9cc8ee" stroke-width="0.9" />
<polyline points="112.5,203.8 120,210 126.2,217.5 130,226.2 130,237.5 132.5,247.5 133.8,257.5 135,267.5 136.2,277.5 137.5,287.5 142.5,295 148.8,302.5 150,312.5 145,322.5 147.5,330 151.2,337.8" fill="none" stroke="#9cc8ee" stroke-width="0.9" />
<polyline points="123.8,180 130,187.5 137.5,192.5 147.5,193.8 156.2,190 163.8,191.2 170,195" fill="none" stroke="#9cc8ee" stroke-width="0.9" />
<polyline points="147.5,262.5 148.8,280 160,282.5 170,283.8 177.5,280 182.5,267.5 190,257.5 194.8,253.8" fill="none" stroke="#9cc8ee" stroke-width="0.9" />
<polyline points="300,178 307,176.2 315.7,176.7 324.4,175.7 328.8,170.1 334.9,164.9 341.9,159.7 348.8,154.4 355.8,150.1 362.8,146.6 369.8,143.1 375,141.3" fill="none" stroke="#9cc8ee" stroke-width="0.9" />
<polyline points="310.5,240.1 315.7,232.9 320.9,229.4 326.2,232.9 333.1,236.4 338.4,239 343.6,239 350.6,234.7 357.6,227.7 364.5,220.7 368.9,216.3 370.6,212 376.7,209.4 383.7,210.2 390.7,211.1 397.7,213.7 404.7,215.5 411.6,217.2" fill="none" stroke="#9cc8ee" stroke-width="0.9" />
<polyline points="140,191.4 146.9,189.1 153.7,190.3 161.7,192.6 168.6,197.1 173.1,193.7 168.6,189.1 160.6,185.7 153.7,184.6 148,177.7 145.7,170.9 148,165.1 153.7,162.9 162.9,162.9 172,165.1 180,165.1 188,161.7 196,158.3 198.3,152.6 196,148 201.7,145.7 210.9,143.4 217.7,138.9 223.4,133.1 226.9,127.4 225.7,118.3 228,111.4 236,105.7 247.4,104.6 258.9,106.9 270.3,109.1 279.4,112.6 284,117.1 280.6,122.9 276,129.7 271.4,138.9 273.7,148 271.4,157.1 272.6,166.3 270.3,175.4 269.1,180 277.1,178.9 286.3,176.6 293.1,174.3 300,175.4" fill="none" stroke="#9cc8ee" stroke-width="0.9" />
<polyline points="270,180.5 280,178 290,175 300,176.8 312.5,176.8 325,175.5 332.5,169.2 340,163 350,155.5 360,149.2 369.8,143" fill="none" stroke="#9cc8ee" stroke-width="0.9" />
<polyline points="220,242.9 229.1,239.4 238.3,232.6 247.4,226.9 258.9,224.6 268,225.7 277.1,230.3 286.3,234.9 295.4,238.3" fill="none" stroke="#9cc8ee" stroke-width="0.9" />
<polyline points="131,280 135,290 142.5,300 147.5,310 151,322.5 152.5,333.7 148.7,347.5 146,353.7 151,358.7 160,360 168.7,358.7 166,366 162.5,375 161,382.5 166,385 173.7,381 181,380 188.7,378.7 195,385 200,392.5 203.7,400 208.7,407.5 212.5,416 215,425 216,435 215,437.5 211,447.5 206,455 205,463.7 208.7,472.5 213.7,478.7 220,485" fill="none" stroke="#9cc8ee" stroke-width="0.9" />
<polygon points="138.8,151.8 142.5,148.8 147.5,150 152.5,153 152,156.8 146.2,156.8 141.2,155.5" fill="#b5e0f5" stroke="none" stroke-width="0" />
<polyline points="390.7,142.9 407.9,127.3" fill="none" stroke="#dfe3ea" stroke-width="1.6" stroke-dasharray="6 3"/>
<polyline points="407.9,127.9 420,146.4 444.3,137.9" fill="none" stroke="#dfe3ea" stroke-width="1.6" stroke-dasharray="6 3"/>
<polyline points="378.7,175.2 465.1,175.2 467.5,183.9 463.5,195.8" fill="none" stroke="#dfe3ea" stroke-width="1.6" stroke-dasharray="6 3"/>
<polyline points="409.6,216.4 463.5,196.6" fill="none" stroke="#dfe3ea" stroke-width="1.6" stroke-dasharray="6 3"/>
<polyline points="463.5,197.4 497,198.5 504,178" fill="none" stroke="#dfe3ea" stroke-width="1.6" stroke-dasharray="6 3"/>
<polyline points="512.5,222 509,240 505,255.5" fill="none" stroke="#dfe3ea" stroke-width="1.6" stroke-dasharray="6 3"/>
<polyline points="407,255.5 505,255.5" fill="none" stroke="#dfe3ea" stroke-width="1.6" stroke-dasharray="6 3"/>
<polyline points="385,291.2 402.5,296.2 451.2,300" fill="none" stroke="#dfe3ea" stroke-width="1.6" stroke-dasharray="6 3"/>
<polyline points="451.2,300 425,336.2" fill="none" stroke="#dfe3ea" stroke-width="1.6" stroke-dasharray="6 3"/>
<polyline points="350,317.5 387.5,336.2 425,336.2" fill="none" stroke="#dfe3ea" stroke-width="1.6" stroke-dasharray="6 3"/>
<polyline points="387.5,336.2 387.5,381.2" fill="none" stroke="#dfe3ea" stroke-width="1.6" stroke-dasharray="6 3"/>
<polyline points="425,336.2 425,381.2 417,381.2" fill="none" stroke="#dfe3ea" stroke-width="1.6" stroke-dasharray="6 3"/>
<polyline points="314.2,331 314.2,548" fill="none" stroke="#dfe3ea" stroke-width="1.6" stroke-dasharray="6 3"/>
<polyline points="248.7,381.2 394,381.2" fill="none" stroke="#dfe3ea" stroke-width="1.6" stroke-dasharray="6 3"/>
<polyline points="262.5,432.5 395,432.5" fill="none" stroke="#dfe3ea" stroke-width="1.6" stroke-dasharray="6 3"/>
<polyline points="231,392.5 248.7,380" fill="none" stroke="#dfe3ea" stroke-width="1.6" stroke-dasharray="6 3"/>
<polyline points="505,255.5 452.5,300" fill="none" stroke="#c4c4c4" stroke-width="1" stroke-dasharray="5 2.5"/>
<polyline points="451.2,300 460,290" fill="none" stroke="#c4c4c4" stroke-width="1" stroke-dasharray="5 2.5"/>
<polyline points="253.7,467.5 246,485 240,505 242,530 247.5,550" fill="none" stroke="#c4c4c4" stroke-width="1" stroke-dasharray="5 2.5"/>
<polyline points="315,547.5 350,505 372.5,480 390,450" fill="none" stroke="#c4c4c4" stroke-width="1" stroke-dasharray="5 2.5"/>
<polyline points="376.2,411 376.2,421" fill="none" stroke="#5a5a78" stroke-width="1.1" />
<polyline points="266,465 268,459 270,454" fill="none" stroke="#5a5a78" stroke-width="1.1" />
<polyline points="243.7,516 243.2,521 243.7,526" fill="none" stroke="#5a5a78" stroke-width="1.1" />
<polyline points="260,512 263,509 266,508" fill="none" stroke="#5a5a78" stroke-width="1.1" />
<polyline points="270,506 272.5,505" fill="none" stroke="#5a5a78" stroke-width="1.1" />
<polyline points="285,508 287,510" fill="none" stroke="#5a5a78" stroke-width="1.1" />
<polyline points="296.5,532 297.5,537 299.5,542" fill="none" stroke="#5a5a78" stroke-width="1.1" />
<polyline points="291,552 294,551.5" fill="none" stroke="#5a5a78" stroke-width="1.1" />
<polyline points="290,557.5 295,556.5 299,554.5" fill="none" stroke="#5a5a78" stroke-width="1.1" />
<polyline points="386.5,541 390,539.5" fill="none" stroke="#5a5a78" stroke-width="1.1" />
<polyline points="321,481.9 321.9,482.4" fill="none" stroke="#5a5a78" stroke-width="1.1" />
<polyline points="327.1,483.9 328,484.4" fill="none" stroke="#5a5a78" stroke-width="1.1" />
<polyline points="314.5,493.3 315.4,493.8" fill="none" stroke="#5a5a78" stroke-width="1.1" />
<polyline points="341.1,486.4 342,486.9" fill="none" stroke="#5a5a78" stroke-width="1.1" />
<polyline points="332.4,488.5 333.3,489" fill="none" stroke="#5a5a78" stroke-width="1.1" />
<polyline points="318.6,482 319.5,482.5" fill="none" stroke="#5a5a78" stroke-width="1.1" />
<polyline points="320.1,513.2 321,513.7" fill="none" stroke="#5a5a78" stroke-width="1.1" />
<polyline points="342.4,485.4 343.3,485.9" fill="none" stroke="#5a5a78" stroke-width="1.1" />
<polyline points="323.8,501.8 324.7,502.3" fill="none" stroke="#5a5a78" stroke-width="1.1" />
<polyline points="339.8,510.5 340.7,511" fill="none" stroke="#5a5a78" stroke-width="1.1" />
<polyline points="345.4,481.3 346.3,481.8" fill="none" stroke="#5a5a78" stroke-width="1.1" />
<polyline points="335,503.5 335.9,504" fill="none" stroke="#5a5a78" stroke-width="1.1" />
<polyline points="331.2,484.8 332.1,485.3" fill="none" stroke="#5a5a78" stroke-width="1.1" />
<polyline points="330,481.4 330.9,481.9" fill="none" stroke="#5a5a78" stroke-width="1.1" />
<polyline points="332.8,489.4 333.7,489.9" fill="none" stroke="#5a5a78" stroke-width="1.1" />
<polyline points="346.5,499.7 347.4,500.2" fill="none" stroke="#5a5a78" stroke-width="1.1" />
<polyline points="331.3,493.7 332.2,494.2" fill="none" stroke="#5a5a78" stroke-width="1.1" />
<polyline points="334.8,494.4 335.7,494.9" fill="none" stroke="#5a5a78" stroke-width="1.1" />
<polyline points="318.1,489.6 319,490.1" fill="none" stroke="#5a5a78" stroke-width="1.1" />
<polyline points="342.9,479.6 343.8,480.1" fill="none" stroke="#5a5a78" stroke-width="1.1" />
<polyline points="313.8,501.8 314.7,502.3" fill="none" stroke="#5a5a78" stroke-width="1.1" />
<polyline points="322.7,498.3 323.6,498.8" fill="none" stroke="#5a5a78" stroke-width="1.1" />
<polyline points="329.9,491 330.8,491.5" fill="none" stroke="#5a5a78" stroke-width="1.1" />
<polyline points="349.9,485.4 350.8,485.9" fill="none" stroke="#5a5a78" stroke-width="1.1" />
<polyline points="327.7,485.7 328.6,486.2" fill="none" stroke="#5a5a78" stroke-width="1.1" />
<polyline points="336,488.5 336.9,489" fill="none" stroke="#5a5a78" stroke-width="1.1" />
<polyline points="325.5,506.4 326.4,506.9" fill="none" stroke="#5a5a78" stroke-width="1.1" />
<polyline points="324.2,499.2 325.1,499.7" fill="none" stroke="#5a5a78" stroke-width="1.1" />
<polyline points="346.4,481.8 347.3,482.3" fill="none" stroke="#5a5a78" stroke-width="1.1" />
<polyline points="314.3,486.7 315.2,487.2" fill="none" stroke="#5a5a78" stroke-width="1.1" />
</g>
<rect x="20.6" y="53.4" width="636.1" height="550.5" fill="none" stroke="#333" stroke-width="1"/>
<line x1="20.6" y1="603.9" x2="20.6" y2="607.7" stroke="#111" stroke-width="1"/>
<line x1="143" y1="603.9" x2="143" y2="607.7" stroke="#111" stroke-width="1"/>
<line x1="265.4" y1="603.9" x2="265.4" y2="607.7" stroke="#111" stroke-width="1"/>
<line x1="387.8" y1="603.9" x2="387.8" y2="607.7" stroke="#111" stroke-width="1"/>
<line x1="510.2" y1="603.9" x2="510.2" y2="607.7" stroke="#111" stroke-width="1"/>
<line x1="632.6" y1="603.9" x2="632.6" y2="607.7" stroke="#111" stroke-width="1"/>
<line x1="656.7" y1="603.9" x2="660.5" y2="603.9" stroke="#111" stroke-width="1"/>
<line x1="656.7" y1="481.55" x2="660.5" y2="481.55" stroke="#111" stroke-width="1"/>
<line x1="656.7" y1="359.2" x2="660.5" y2="359.2" stroke="#111" stroke-width="1"/>
<line x1="656.7" y1="236.85" x2="660.5" y2="236.85" stroke="#111" stroke-width="1"/>
<line x1="656.7" y1="114.5" x2="660.5" y2="114.5" stroke="#111" stroke-width="1"/>
<rect x="26.3" y="502.6" width="62.5" height="97.1" fill="#fff" stroke="#111" stroke-width="1.2"/>
<rect x="30.8" y="524" width="22.4" height="8.4" fill="#0DD0F8" stroke="#111" stroke-width="1.1"/>
<text x="62" y="532.4" font-size="10" fill="#111" font-family="'Liberation Sans','Noto Sans CJK SC',sans-serif">6级</text>
<rect x="30.8" y="539.55" width="22.4" height="8.4" fill="#1E8CFF" stroke="#111" stroke-width="1.1"/>
<text x="62" y="547.95" font-size="10" fill="#111" font-family="'Liberation Sans','Noto Sans CJK SC',sans-serif">7级</text>
<rect x="30.8" y="555.1" width="22.4" height="8.4" fill="#0A14F0" stroke="#111" stroke-width="1.1"/>
<text x="62" y="563.5" font-size="10" fill="#111" font-family="'Liberation Sans','Noto Sans CJK SC',sans-serif">8级</text>
<rect x="30.8" y="570.65" width="22.4" height="8.4" fill="#FFD000" stroke="#111" stroke-width="1.1"/>
<text x="62" y="579.05" font-size="10" fill="#111" font-family="'Liberation Sans','Noto Sans CJK SC',sans-serif">9级</text>
<rect x="30.8" y="586.2" width="22.4" height="8.4" fill="#FF8C00" stroke="#111" stroke-width="1.1"/>
<text x="62" y="594.6" font-size="10" fill="#111" font-family="'Liberation Sans','Noto Sans CJK SC',sans-serif">10级</text>
<text x="47" y="516.4" font-size="10.5" fill="#111" font-family="'Liberation Sans','Noto Sans CJK SC',sans-serif">图例</text>
<text x="517.8" y="601.9" font-size="10" fill="#222" textLength="130.3" lengthAdjust="spacingAndGlyphs" font-family="'Liberation Sans','Noto Sans CJK SC',sans-serif">审图号：GS（2019）3082号</text>
<text x="537.8" y="85.3" font-size="16.7" font-weight="bold" fill="#08086E" textLength="83.4" lengthAdjust="spacingAndGlyphs" font-family="'Liberation Sans','Noto Sans CJK SC',sans-serif">中央气象台</text>
<text x="511" y="105.9" font-size="16.7" font-weight="bold" fill="#08086E" textLength="138.8" lengthAdjust="spacingAndGlyphs" font-family="'Liberation Sans','Noto Sans CJK SC',sans-serif">11月15日18时发布</text>
<text x="217" y="24.8" font-size="19.5" fill="#1a1a1a" textLength="245" lengthAdjust="spacingAndGlyphs" font-family="'Liberation Sans','Noto Sans CJK SC',sans-serif">责任海区6级以上风力预报图</text>
<text x="231.3" y="43.5" font-size="12.6" fill="#1a1a1a" textLength="214.3" lengthAdjust="spacingAndGlyphs" font-family="'Liberation Sans','Noto Sans CJK SC',sans-serif">11月16日20时-11月17日20时(北京时)</text>
<g transform="translate(24,60) scale(0.10142)">
<defs><linearGradient id="lg2" gradientUnits="userSpaceOnUse" x1="0" y1="40" x2="0" y2="590"><stop offset="0" stop-color="#6FD0E6"/><stop offset="0.35" stop-color="#2F7CCB"/><stop offset="0.7" stop-color="#173FA0"/><stop offset="1" stop-color="#0A1F86"/></linearGradient></defs>
<path fill="url(#lg2)" fill-rule="evenodd" d="M305,36 A266,264 0 1 1 304,36 Z M296,58 A236,234 0 1 0 297,58 Z"/>
<path fill="#FDEBD0" d="M150,470 L250,600 L120,600 L40,480 Z" opacity="0"/>
<path fill="url(#lg2)" d="M235,285 C300,265 380,250 440,232 C478,250 482,300 440,340 C400,375 330,400 290,440 C260,475 270,530 330,545 C400,560 480,520 530,420 L562,430 C520,545 420,600 320,590 C230,580 180,520 195,450 C210,390 290,350 350,322 C392,300 390,280 350,286 C310,292 285,312 268,342 L222,314 Z"/>
<path fill="url(#lg2)" d="M88,247 L215,222 L222,182 L258,158 L332,170 L338,238 L170,292 L128,268 Z"/>
<path fill="none" stroke="url(#lg2)" stroke-width="20" stroke-linecap="round" d="M338,98 Q378,140 325,205"/>
<path fill="none" stroke="url(#lg2)" stroke-width="18" stroke-linecap="round" d="M402,138 Q412,195 345,238"/>
<path fill="none" stroke="url(#lg2)" stroke-width="16" stroke-linecap="round" d="M446,178 Q445,232 385,262"/>
</g>
</svg>
<div class="xl" style="left:-8.4px">90°E</div>
<div class="xl" style="left:114px">100°E</div>
<div class="xl" style="left:236.4px">110°E</div>
<div class="xl" style="left:358.8px">120°E</div>
<div class="xl" style="left:481.2px">130°E</div>
<div class="xl" style="left:603.6px">140°E</div>
<div class="yl" style="top:597.7px">0°</div>
<div class="yl" style="top:475.35px">10°N</div>
<div class="yl" style="top:353px">20°N</div>
<div class="yl" style="top:230.65px">30°N</div>
<div class="yl" style="top:108.3px">40°N</div>
<div class="h" style="left:217px;top:6px;width:246px;font-size:19.5px;">责任海区6级以上风力预报图</div>
<div class="h" style="left:231px;top:32px;width:216px;font-size:13px;">11月16日20时-11月17日20时(北京时)</div>
<div class="h" style="left:537px;top:68px;width:86px;font-size:16.7px;font-weight:bold">中央气象台</div>
<div class="h" style="left:511px;top:90px;width:140px;font-size:16.7px;font-weight:bold">11月15日18时发布</div>
<div class="h" style="left:47px;top:506px;width:22px;font-size:10.5px;">图例</div>
<div class="h" style="left:62px;top:522.5px;width:24px;font-size:10.5px;">6级</div>
<div class="h" style="left:62px;top:538.05px;width:24px;font-size:10.5px;">7级</div>
<div class="h" style="left:62px;top:553.6px;width:24px;font-size:10.5px;">8级</div>
<div class="h" style="left:62px;top:569.15px;width:24px;font-size:10.5px;">9级</div>
<div class="h" style="left:62px;top:584.7px;width:24px;font-size:10.5px;">10级</div>
<div class="h" style="left:517.5px;top:593px;width:132px;font-size:10px;">审图号：GS（2019）3082号</div>
</body></html>
